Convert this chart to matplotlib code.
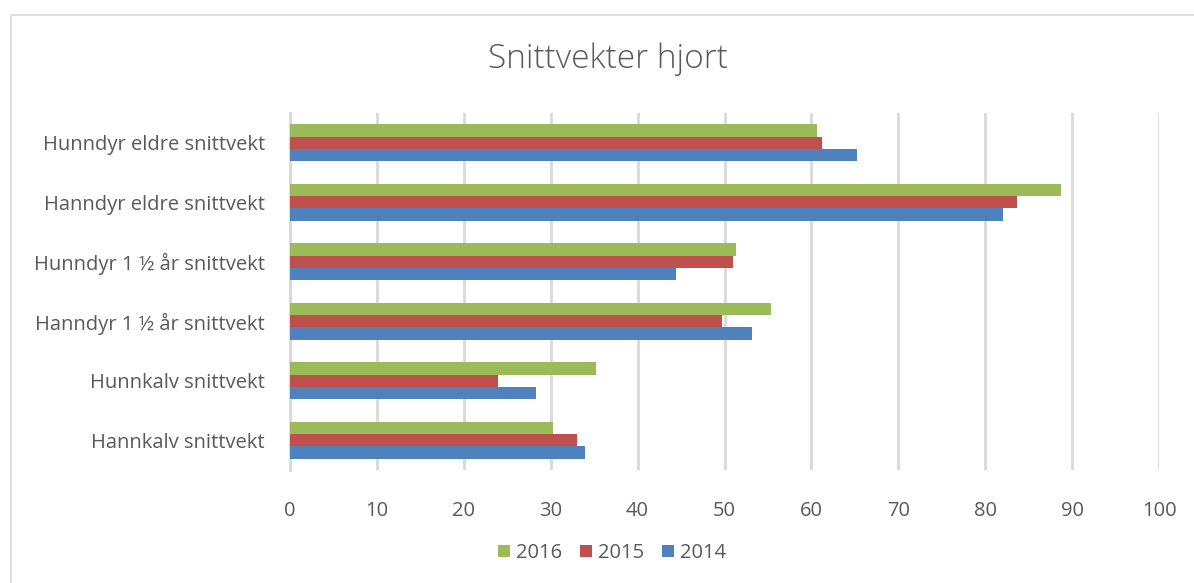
import matplotlib
matplotlib.use("Agg")
import matplotlib.pyplot as plt
import numpy as np

categories = ["Hannkalv snittvekt", "Hunnkalv snittvekt", "Hanndyr 1 ½ år snittvekt",
              "Hunndyr 1 ½ år snittvekt", "Hanndyr eldre snittvekt", "Hunndyr eldre snittvekt"]
v2014 = [33.9, 28.3, 53.2, 44.4, 82.0, 65.2]
v2015 = [33.0, 23.9, 49.7, 51.0, 83.7, 61.2]
v2016 = [30.3, 35.2, 55.4, 51.3, 88.7, 60.7]

text_col = "#595959"
plt.rcParams["font.family"] = ["Open Sans", "DejaVu Sans"]

fig = plt.figure(figsize=(11.94, 5.83), dpi=100)
ax = fig.add_axes([290 / 1194, 1 - 470 / 583, 869 / 1194, 357 / 583])

y = np.arange(len(categories))
h = 0.21
ax.barh(y - h, v2014, height=h, color="#4F81BD", label="2014", zorder=3)
ax.barh(y, v2015, height=h, color="#C0504D", label="2015", zorder=3)
ax.barh(y + h, v2016, height=h, color="#9BBB59", label="2016", zorder=3)

ax.set_xlim(0, 100)
ax.set_ylim(-0.5, len(categories) - 0.5)
ax.set_xticks(range(0, 101, 10))
ax.set_yticks(y)
ax.set_yticklabels(categories)
ax.grid(axis="x", color="#D9D9D9", linewidth=2, zorder=0)
ax.tick_params(axis="both", length=0, labelcolor=text_col, labelsize=14.5)
ax.tick_params(axis="x", pad=22)
ax.tick_params(axis="y", pad=18)
for s in ["top", "right", "bottom"]:
    ax.spines[s].set_visible(False)
ax.spines["left"].set_color("#D9D9D9")
ax.spines["left"].set_linewidth(2)

fig.text(608 / 1194, 1 - 59 / 583, "Snittvekter hjort", ha="center", va="center",
         fontsize=24, color=text_col, fontweight="light")

handles, labels = ax.get_legend_handles_labels()
fig.legend(handles[::-1], labels[::-1], loc="center", bbox_to_anchor=(612 / 1194, 1 - 553 / 583),
           ncol=3, frameon=False, fontsize=14.5, labelcolor=text_col,
           handlelength=0.6, handleheight=0.6, handletextpad=0.3, columnspacing=0.9)

# chart frame
fig.patches.append(plt.Rectangle((11 / 1194, -0.05), 1.1, 1 - 15 / 583 + 0.05,
                                 transform=fig.transFigure, fill=False,
                                 edgecolor="#D9D9D9", linewidth=1.2))

plt.savefig("out.png", dpi=100)
